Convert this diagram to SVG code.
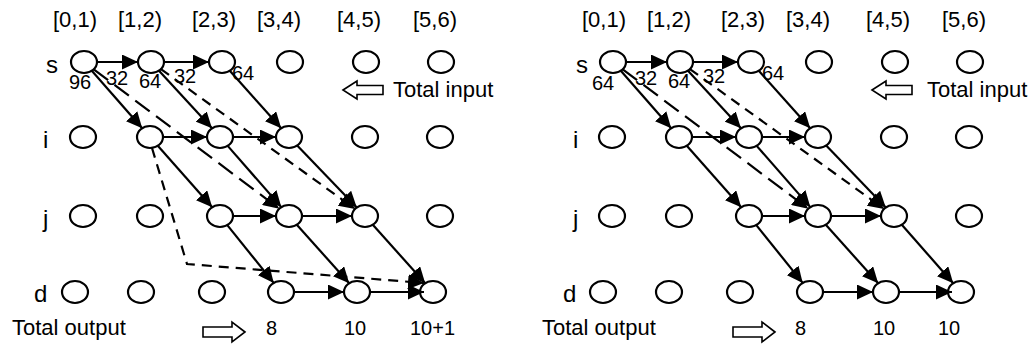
<svg xmlns="http://www.w3.org/2000/svg" width="1033" height="345" viewBox="0 0 1033 345">
<style>
.n{fill:#fff;stroke:#000;stroke-width:2.2}
.e{stroke:#000;stroke-width:2.2;fill:none;marker-end:url(#ah)}
.ld{stroke-dasharray:18 8}
.sd{stroke-dasharray:10 7}
text{font-family:"Liberation Sans",Arial,sans-serif;font-size:22px;fill:#000}
.num{font-size:20px}
.row{font-size:24px}
.ha{fill:#fff;stroke:#000;stroke-width:1.6}
</style>
<defs>
<marker id="ah" markerWidth="16" markerHeight="15" refX="16" refY="7.5" orient="auto" markerUnits="userSpaceOnUse"><path d="M0,0 L16,7.5 L0,15 z" fill="#000"/></marker>
</defs>
<rect width="1033" height="345" fill="#fff"/>

<!-- LEFT PANEL -->
<g id="left">
<g id="L-labels">
<text x="53" y="27">[0,1)</text><text x="118" y="27">[1,2)</text><text x="192" y="27">[2,3)</text><text x="257" y="27">[3,4)</text><text x="337" y="27">[4,5)</text><text x="413" y="27">[5,6)</text>
<text class="row" x="46" y="73">s</text><text class="row" x="43" y="148">i</text><text class="row" x="43" y="227">j</text><text class="row" x="34" y="302">d</text>
<text x="393" y="97">Total input</text>
<text x="12" y="335">Total output</text>
<text class="num" x="69" y="89">96</text><text class="num" x="106" y="85">32</text><text class="num" x="139" y="88">64</text><text class="num" x="174" y="83">32</text><text class="num" x="232" y="80">64</text>
<text class="num" x="266" y="335">8</text><text class="num" x="344" y="335">10</text><text class="num" x="410" y="335">10+1</text>
<polygon class="ha" points="343,90 357,81 357,85.5 383,85.5 383,94.5 357,94.5 357,99"/>
<polygon class="ha" points="245,332 232,322 232,327 203,327 203,337 232,337 232,342"/>
</g>
<g id="L-s0"><ellipse class="n" cx="84" cy="62" rx="13" ry="11"/></g>
<g id="L-s1"><ellipse class="n" cx="151" cy="62" rx="13" ry="11"/></g>
<g id="L-s2"><ellipse class="n" cx="222" cy="62" rx="13" ry="11"/></g>
<g id="L-s3"><ellipse class="n" cx="290" cy="62" rx="13" ry="11"/></g>
<g id="L-s4"><ellipse class="n" cx="366" cy="62" rx="13" ry="11"/></g>
<g id="L-s5"><ellipse class="n" cx="441" cy="62" rx="13" ry="11"/></g>
<g id="L-i0"><ellipse class="n" cx="83" cy="137" rx="13" ry="11"/></g>
<g id="L-i1"><ellipse class="n" cx="150" cy="137" rx="13" ry="11"/></g>
<g id="L-i2"><ellipse class="n" cx="220" cy="137" rx="13" ry="11"/></g>
<g id="L-i3"><ellipse class="n" cx="289" cy="137" rx="13" ry="11"/></g>
<g id="L-i4"><ellipse class="n" cx="365" cy="137" rx="13" ry="11"/></g>
<g id="L-i5"><ellipse class="n" cx="440" cy="137" rx="13" ry="11"/></g>
<g id="L-j0"><ellipse class="n" cx="83" cy="216" rx="13" ry="11"/></g>
<g id="L-j1"><ellipse class="n" cx="150" cy="216" rx="13" ry="11"/></g>
<g id="L-j2"><ellipse class="n" cx="220" cy="216" rx="13" ry="11"/></g>
<g id="L-j3"><ellipse class="n" cx="289" cy="216" rx="13" ry="11"/></g>
<g id="L-j4"><ellipse class="n" cx="365" cy="216" rx="13" ry="11"/></g>
<g id="L-j5"><ellipse class="n" cx="440" cy="216" rx="13" ry="11"/></g>
<g id="L-d0"><ellipse class="n" cx="75" cy="292" rx="13" ry="11"/></g>
<g id="L-d1"><ellipse class="n" cx="141" cy="292" rx="13" ry="11"/></g>
<g id="L-d2"><ellipse class="n" cx="212" cy="292" rx="13" ry="11"/></g>
<g id="L-d3"><ellipse class="n" cx="281" cy="292" rx="13" ry="11"/></g>
<g id="L-d4"><ellipse class="n" cx="357" cy="292" rx="13" ry="11"/></g>
<g id="L-d5"><ellipse class="n" cx="433" cy="292" rx="13" ry="11"/></g>
<g id="L-connectors">
<line class="e" x1="97" y1="62" x2="138" y2="62"/>
<line class="e" x1="164" y1="62" x2="209" y2="62"/>
<line class="e" x1="91.8" y1="70.8" x2="142.2" y2="128.2"/>
<line class="e" x1="159" y1="70.7" x2="212" y2="128.3"/>
<line class="e" x1="229.8" y1="70.8" x2="281.2" y2="128.2"/>
<line class="e ld" x1="93.7" y1="69.3" x2="279.3" y2="208.7"/>
<line class="e sd" x1="160.9" y1="69.1" x2="355.1" y2="208.9"/>
<line class="e" x1="163" y1="137" x2="207" y2="137"/>
<line class="e" x1="233" y1="137" x2="276" y2="137"/>
<line class="e" x1="157.8" y1="145.8" x2="212.2" y2="207.2"/>
<line class="e" x1="227.7" y1="145.9" x2="281.3" y2="207.1"/>
<line class="e" x1="297.2" y1="145.5" x2="356.8" y2="207.5"/>
<line class="e" x1="233" y1="216" x2="276" y2="216"/>
<line class="e" x1="302" y1="216" x2="352" y2="216"/>
<line class="e" x1="227.3" y1="225.1" x2="273.7" y2="282.9"/>
<line class="e" x1="296.8" y1="224.8" x2="349.2" y2="283.2"/>
<line class="e" x1="372.8" y1="224.8" x2="425.2" y2="283.2"/>
<line class="e" x1="294" y1="292" x2="344" y2="292"/>
<line class="e" x1="370" y1="292" x2="424" y2="292"/>
<polyline class="e sd" points="152,148 187,264 424,283"/>
</g>
</g>

<!-- RIGHT PANEL -->
<g id="right" transform="translate(529,0)">
<g id="R-labels">
<text x="53" y="27">[0,1)</text><text x="118" y="27">[1,2)</text><text x="192" y="27">[2,3)</text><text x="257" y="27">[3,4)</text><text x="337" y="27">[4,5)</text><text x="413" y="27">[5,6)</text>
<text class="row" x="47" y="73">s</text><text class="row" x="44" y="148">i</text><text class="row" x="44" y="227">j</text><text class="row" x="34" y="302">d</text>
<text x="398" y="97">Total input</text>
<text x="13" y="335">Total output</text>
<text class="num" x="63" y="90">64</text><text class="num" x="106" y="85">32</text><text class="num" x="139" y="88">64</text><text class="num" x="174" y="83">32</text><text class="num" x="233" y="80">64</text>
<text class="num" x="266" y="335">8</text><text class="num" x="344" y="335">10</text><text class="num" x="409" y="335">10</text>
<polygon class="ha" points="343,90 357,81 357,85.5 383,85.5 383,94.5 357,94.5 357,99"/>
<polygon class="ha" points="246,332 233,322 233,327 204,327 204,337 233,337 233,342"/>
</g>
<g id="R-s0"><ellipse class="n" cx="84" cy="62" rx="13" ry="11"/></g>
<g id="R-s1"><ellipse class="n" cx="151" cy="62" rx="13" ry="11"/></g>
<g id="R-s2"><ellipse class="n" cx="222" cy="62" rx="13" ry="11"/></g>
<g id="R-s3"><ellipse class="n" cx="290" cy="62" rx="13" ry="11"/></g>
<g id="R-s4"><ellipse class="n" cx="366" cy="62" rx="13" ry="11"/></g>
<g id="R-s5"><ellipse class="n" cx="441" cy="62" rx="13" ry="11"/></g>
<g id="R-i0"><ellipse class="n" cx="83" cy="137" rx="13" ry="11"/></g>
<g id="R-i1"><ellipse class="n" cx="150" cy="137" rx="13" ry="11"/></g>
<g id="R-i2"><ellipse class="n" cx="220" cy="137" rx="13" ry="11"/></g>
<g id="R-i3"><ellipse class="n" cx="289" cy="137" rx="13" ry="11"/></g>
<g id="R-i4"><ellipse class="n" cx="365" cy="137" rx="13" ry="11"/></g>
<g id="R-i5"><ellipse class="n" cx="440" cy="137" rx="13" ry="11"/></g>
<g id="R-j0"><ellipse class="n" cx="83" cy="216" rx="13" ry="11"/></g>
<g id="R-j1"><ellipse class="n" cx="150" cy="216" rx="13" ry="11"/></g>
<g id="R-j2"><ellipse class="n" cx="220" cy="216" rx="13" ry="11"/></g>
<g id="R-j3"><ellipse class="n" cx="289" cy="216" rx="13" ry="11"/></g>
<g id="R-j4"><ellipse class="n" cx="365" cy="216" rx="13" ry="11"/></g>
<g id="R-j5"><ellipse class="n" cx="440" cy="216" rx="13" ry="11"/></g>
<g id="R-d0"><ellipse class="n" cx="74" cy="292" rx="13" ry="11"/></g>
<g id="R-d1"><ellipse class="n" cx="140" cy="292" rx="13" ry="11"/></g>
<g id="R-d2"><ellipse class="n" cx="211" cy="292" rx="13" ry="11"/></g>
<g id="R-d3"><ellipse class="n" cx="281" cy="292" rx="13" ry="11"/></g>
<g id="R-d4"><ellipse class="n" cx="357" cy="292" rx="13" ry="11"/></g>
<g id="R-d5"><ellipse class="n" cx="432" cy="292" rx="13" ry="11"/></g>
<g id="R-connectors">
<line class="e" x1="97" y1="62" x2="138" y2="62"/>
<line class="e" x1="164" y1="62" x2="209" y2="62"/>
<line class="e" x1="91.8" y1="70.8" x2="142.2" y2="128.2"/>
<line class="e" x1="159" y1="70.7" x2="212" y2="128.3"/>
<line class="e" x1="229.8" y1="70.8" x2="281.2" y2="128.2"/>
<line class="e ld" x1="93.7" y1="69.3" x2="279.3" y2="208.7"/>
<line class="e sd" x1="160.9" y1="69.1" x2="355.1" y2="208.9"/>
<line class="e" x1="163" y1="137" x2="207" y2="137"/>
<line class="e" x1="233" y1="137" x2="276" y2="137"/>
<line class="e" x1="157.8" y1="145.8" x2="212.2" y2="207.2"/>
<line class="e" x1="227.7" y1="145.9" x2="281.3" y2="207.1"/>
<line class="e" x1="297.2" y1="145.5" x2="356.8" y2="207.5"/>
<line class="e" x1="233" y1="216" x2="276" y2="216"/>
<line class="e" x1="302" y1="216" x2="352" y2="216"/>
<line class="e" x1="227.3" y1="225.1" x2="273.7" y2="282.9"/>
<line class="e" x1="296.8" y1="224.8" x2="349.2" y2="283.2"/>
<line class="e" x1="372.8" y1="224.8" x2="424.2" y2="283.2"/>
<line class="e" x1="294" y1="292" x2="344" y2="292"/>
<line class="e" x1="370" y1="292" x2="423" y2="292"/>
</g>
</g>
</svg>
